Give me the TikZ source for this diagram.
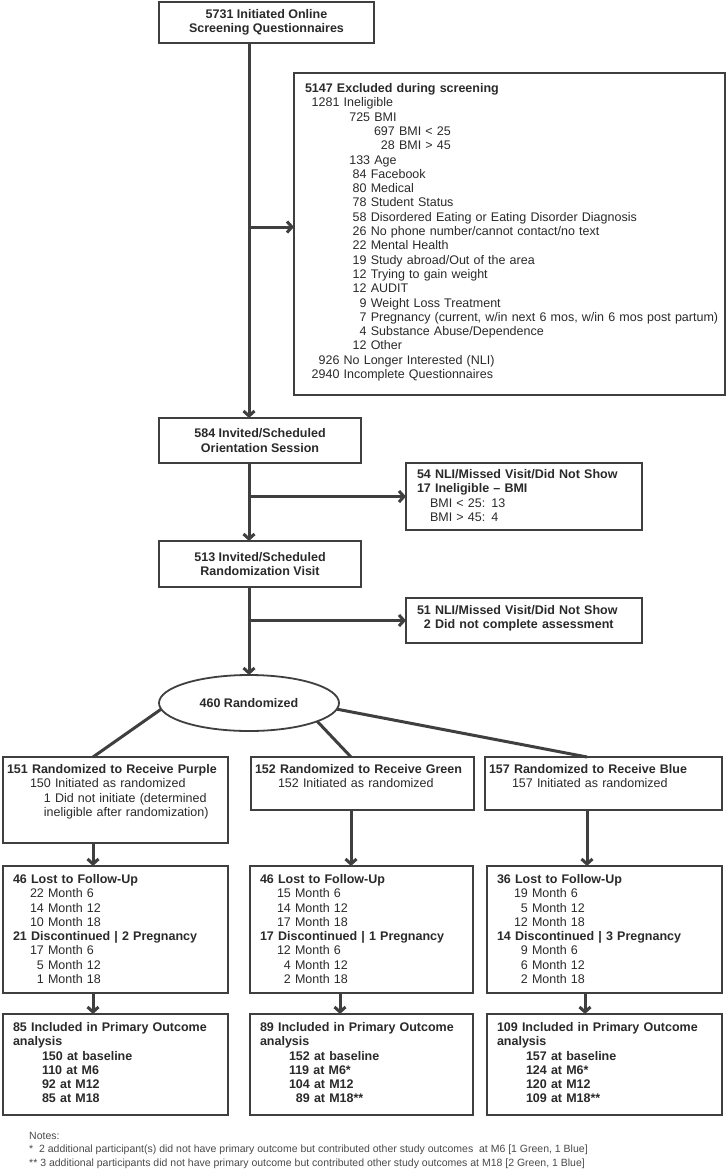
\documentclass[tikz,border=0pt]{standalone}
\usepackage{fontspec}
\setmainfont{Liberation Sans}
\usepackage{tikz}
\usetikzlibrary{shapes.geometric, arrows.meta, positioning, calc}
\definecolor{linegray}{HTML}{3F3F3F}
\definecolor{inkgray}{HTML}{2A2A2A}
\definecolor{notegray}{HTML}{4A4A4A}

\begin{document}
\begin{tikzpicture}[
  x=1pt, y=-1pt,
  base/.style={rectangle, draw=linegray, line width=2.6pt, fill=white, text=inkgray, outer sep=0pt, font=\fontsize{12.5}{14.3}\selectfont},
  ctrbox/.style={base, align=center, inner sep=0pt, font=\fontsize{12.5}{14.3}\selectfont\bfseries},
  listbox/.style={base, anchor=north west, align=left, inner ysep=0pt, inner xsep=10pt, text height=17.4pt},
  grpbox/.style={listbox, inner xsep=4pt, text height=16.5pt},
  boldbox/.style={listbox, font=\fontsize{12.5}{14.3}\selectfont\bfseries},
  oval/.style={ellipse, draw=linegray, line width=1.8pt, fill=white, text=inkgray, outer sep=0pt, inner sep=0pt, minimum width=180pt, minimum height=56pt, font=\fontsize{12.5}{14.3}\selectfont\bfseries},
  conn/.style={draw=linegray, line width=3pt},
  arr/.style={conn, -{Straight Barb[length=5pt, width=11pt]}},
]
\path[use as bounding box, fill=white] (0,0) rectangle (727,1170);

\node[ctrbox, minimum width=215pt, minimum height=41pt] (screen) at (266.5,22.5) {5731 Initiated Online\\Screening Questionnaires};
\node[listbox, inner xsep=11pt, text width=409pt, text height=19.5pt, text depth=302.5pt] (excl) at (294,73) {\textbf{5147 Excluded during screening}\\
\hspace*{6.7pt}1281 Ineligible\\
\hspace*{44.3pt}725 BMI\\
\hspace*{69pt}697 BMI < 25\\
\hspace*{69pt}\phantom{6}28 BMI > 45\\
\hspace*{44.3pt}133 Age\\
\hspace*{47.7pt}84 Facebook\\
\hspace*{47.7pt}80 Medical\\
\hspace*{47.7pt}78 Student Status\\
\hspace*{47.7pt}58 Disordered Eating or Eating Disorder Diagnosis\\
\hspace*{47.7pt}26 No phone number/cannot contact/no text\\
\hspace*{47.7pt}22 Mental Health\\
\hspace*{47.7pt}19 Study abroad/Out of the area\\
\hspace*{47.7pt}12 Trying to gain weight\\
\hspace*{47.7pt}12 AUDIT\\
\hspace*{47.7pt}\phantom{1}9 Weight Loss Treatment\\
\hspace*{47.7pt}\mbox{\phantom{1}7 Pregnancy (current, w/in next 6 mos, w/in 6 mos post partum)}\\
\hspace*{47.7pt}\phantom{1}4 Substance Abuse/Dependence\\
\hspace*{47.7pt}12 Other\\
\hspace*{6.7pt}\phantom{2}926 No Longer Interested (NLI)\\
\hspace*{6.7pt}2940 Incomplete Questionnaires};

\node[ctrbox, minimum width=202pt, minimum height=45pt] (orient) at (260,440.5) {584 Invited/Scheduled\\Orientation Session};
\node[listbox, inner xsep=11pt, text width=214pt, text height=15.5pt, text depth=51.5pt] (nli1) at (406,463) {\textbf{54 NLI/Missed Visit/Did Not Show}\\\textbf{17 Ineligible -- BMI}\\\hspace*{13pt}BMI < 25: 13\\\hspace*{13pt}BMI > 45: 4};
\node[ctrbox, minimum width=202pt, minimum height=46pt] (randv) at (260,564) {513 Invited/Scheduled\\Randomization Visit};
\node[boldbox, inner xsep=11pt, text width=214pt, text height=16pt, text depth=29pt] (nli2) at (406,598) {51 NLI/Missed Visit/Did Not Show\\\phantom{5}2 Did not complete assessment};
\node[oval] (rand) at (249,703) {460 Randomized};

\node[grpbox, text width=217pt, text depth=69.5pt] (p1) at (3,757) {\textbf{151 Randomized to Receive Purple}\\\hspace*{23pt}150 Initiated as randomized\\\hspace*{23pt}\phantom{15}1 Did not initiate (determined\\\hspace*{23pt}\phantom{15}ineligible after randomization)};
\node[grpbox, text width=215pt, text depth=36.5pt] (g1) at (251,757) {\textbf{152 Randomized to Receive Green}\\\hspace*{23pt}152 Initiated as randomized};
\node[grpbox, text width=229pt, text depth=36.5pt] (b1) at (485,757) {\textbf{157 Randomized to Receive Blue}\\\hspace*{23pt}157 Initiated as randomized};

\node[listbox, text width=205pt, text depth=109.6pt] (p2) at (3,866) {\textbf{46 Lost to Follow-Up}\\\hspace*{17pt}22 Month 6\\\hspace*{17pt}14 Month 12\\\hspace*{17pt}10 Month 18\\\textbf{21 Discontinued | 2 Pregnancy}\\\hspace*{17pt}17 Month 6\\\hspace*{17pt}\phantom{1}5 Month 12\\\hspace*{17pt}\phantom{1}1 Month 18};
\node[listbox, text width=203pt, text depth=109.6pt] (g2) at (250,866) {\textbf{46 Lost to Follow-Up}\\\hspace*{17pt}15 Month 6\\\hspace*{17pt}14 Month 12\\\hspace*{17pt}17 Month 18\\\textbf{17 Discontinued | 1 Pregnancy}\\\hspace*{17pt}12 Month 6\\\hspace*{17pt}\phantom{1}4 Month 12\\\hspace*{17pt}\phantom{1}2 Month 18};
\node[listbox, text width=215pt, text depth=109.6pt] (b2) at (487,866) {\textbf{36 Lost to Follow-Up}\\\hspace*{17pt}19 Month 6\\\hspace*{17pt}\phantom{1}5 Month 12\\\hspace*{17pt}12 Month 18\\\textbf{14 Discontinued | 3 Pregnancy}\\\hspace*{17pt}\phantom{1}9 Month 6\\\hspace*{17pt}\phantom{1}6 Month 12\\\hspace*{17pt}\phantom{1}2 Month 18};

\node[boldbox, text width=205pt, text depth=83.6pt] (p3) at (3,1014) {85 Included in Primary Outcome\\analysis\\\hspace*{29pt}150 at baseline\\\hspace*{29pt}110 at M6\\\hspace*{29pt}92 at M12\\\hspace*{29pt}85 at M18};
\node[boldbox, text width=203pt, text depth=83.6pt] (g3) at (250,1014) {89 Included in Primary Outcome\\analysis\\\hspace*{29pt}152 at baseline\\\hspace*{29pt}119 at M6*\\\hspace*{29pt}104 at M12\\\hspace*{29pt}\phantom{1}89 at M18**};
\node[boldbox, text width=215pt, text depth=83.6pt] (b3) at (487,1014) {109 Included in Primary Outcome\\analysis\\\hspace*{29pt}157 at baseline\\\hspace*{29pt}124 at M6*\\\hspace*{29pt}120 at M12\\\hspace*{29pt}109 at M18**};

\node[anchor=north west, align=left, inner sep=0pt, text=notegray, font=\fontsize{10.5}{13.5}\selectfont] (notes) at (29,1132) {Notes:\\{}*\ \ 2 additional participant(s) did not have primary outcome but contributed other study outcomes\ \ at M6 [1 Green, 1 Blue]\\{}** 3 additional participants did not have primary outcome but contributed other study outcomes at M18 [2 Green, 1 Blue]};

\coordinate (trunk) at (249,0);
\coordinate (pcol) at (93,0);
\coordinate (gcol) at (351,0);
\coordinate (gcolb) at (340,0);
\coordinate (bcol) at (587,0);
\coordinate (bcolb) at (585,0);
\coordinate (exclin) at ([yshift=7pt]excl.west);

\draw[arr] (screen.south -| trunk) -- (orient.north -| trunk);
\draw[arr] (exclin -| trunk) -- (exclin);
\draw[arr] (orient.south -| trunk) -- (randv.north -| trunk);
\draw[arr] (nli1.west -| trunk) -- (nli1.west);
\draw[arr] (randv.south -| trunk) -- (rand.north);
\draw[arr] (nli2.west -| trunk) -- (nli2.west);

\draw[conn] (rand.184) -- (p1.north -| pcol);
\draw[conn] (rand.-15) -- (g1.north -| gcol);
\draw[conn] (rand.-4) -- (b1.north -| bcol);

\draw[arr] (p1.south -| pcol) -- (p2.north -| pcol);
\draw[arr] (p2.south -| pcol) -- (p3.north -| pcol);
\draw[arr] (g1.south -| gcol) -- (g2.north -| gcol);
\draw[arr] (g2.south -| gcolb) -- (g3.north -| gcolb);
\draw[arr] (b1.south -| bcol) -- (b2.north -| bcol);
\draw[arr] (b2.south -| bcolb) -- (b3.north -| bcolb);
\end{tikzpicture}
\end{document}
